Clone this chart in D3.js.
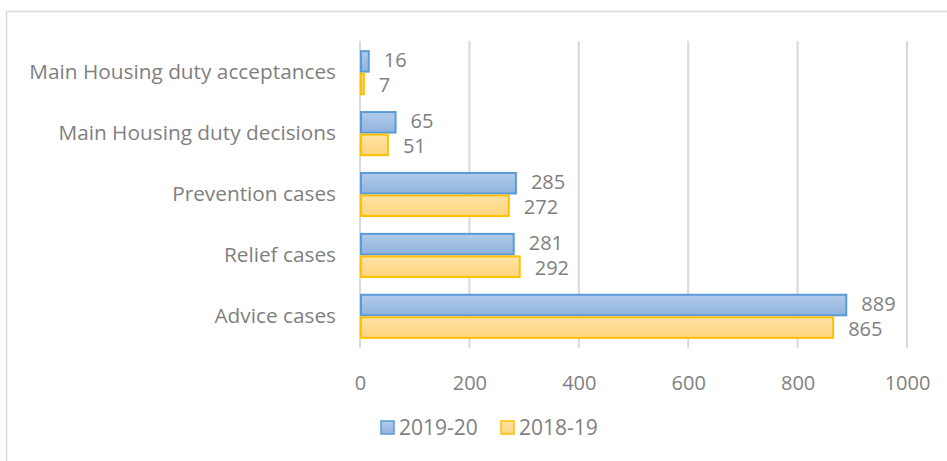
<!DOCTYPE html>
<html>
<head>
<meta charset="utf-8">
<script src="https://cdn.jsdelivr.net/npm/d3@7"></script>
<style>
  body { margin: 0; background: #fff; }
  svg { display: block; }
  text { font-family: "Open Sans", sans-serif; fill: #7f7f7f; }
</style>
</head>
<body>
<div id="chart"></div>
<script>
// categories, top to bottom
var categories = ['Main Housing duty acceptances', 'Main Housing duty decisions',
                  'Prevention cases', 'Relief cases', 'Advice cases'];
var seriesNames = ['2019-20', '2018-19'];
var values2019 = [16, 65, 285, 281, 889];
var values2018 = [7, 51, 272, 292, 865];
var xTicks = [0, 200, 400, 600, 800, 1000];

var W = 947, H = 461;
var margin = {left: 360, right: 40, top: 41, bottom: 113};

var svg = d3.select('#chart').append('svg')
  .attr('width', W).attr('height', H);

var defs = svg.append('defs');
function grad(id, c1, c2) {
  var g = defs.append('linearGradient').attr('id', id)
    .attr('x1', 0).attr('y1', 0).attr('x2', 0).attr('y2', 1);
  g.append('stop').attr('offset', '0%').attr('stop-color', c1);
  g.append('stop').attr('offset', '100%').attr('stop-color', c2);
}
grad('gBlue', '#b3cbe9', '#8fb3df');
grad('gGold', '#ffe3a6', '#ffd47e');

var fills = ['url(#gBlue)', 'url(#gGold)'];
var strokes = ['#5b9bd5', '#ffc000'];

// chart frame
svg.append('rect')
  .attr('x', 6.5).attr('y', 11.5)
  .attr('width', 1000).attr('height', 500)
  .attr('fill', 'none').attr('stroke', '#d9d9d9').attr('stroke-width', 1.5);

var x = d3.scaleLinear().domain([0, 1000]).range([margin.left, W - margin.right]);
var y = d3.scaleBand().domain(categories)
  .range([margin.top, H - margin.bottom]).paddingInner(0.26).paddingOuter(0.15);
var ySub = d3.scaleBand().domain(seriesNames).range([0, y.bandwidth()]);

// gridlines
svg.append('g').selectAll('line').data(xTicks).enter().append('line')
  .attr('x1', function(d) { return x(d); })
  .attr('x2', function(d) { return x(d); })
  .attr('y1', margin.top).attr('y2', H - margin.bottom)
  .attr('stroke', '#d9d9d9').attr('stroke-width', 2);

// x axis tick labels
var xAxis = d3.axisBottom(x).tickValues(xTicks).tickFormat(d3.format('d'))
  .tickSize(0).tickPadding(0);
var gx = svg.append('g')
  .attr('transform', 'translate(0,' + (H - margin.bottom + 35) + ')')
  .call(xAxis);
gx.select('.domain').remove();
gx.selectAll('text').style('font-size', '20px').attr('dy', '0.35em')
  .attr('fill', '#7f7f7f');

// y axis category labels
var yAxis = d3.axisLeft(y).tickSize(0).tickPadding(24);
var gy = svg.append('g').attr('transform', 'translate(' + margin.left + ',0)').call(yAxis);
gy.select('.domain').remove();
gy.selectAll('text').style('font-size', '20.8px').attr('fill', '#7f7f7f');

// bars
var rows = categories.map(function(c, i) {
  return {cat: c, vals: [values2019[i], values2018[i]]};
});
var grp = svg.append('g').selectAll('g').data(rows).enter().append('g')
  .attr('transform', function(d) { return 'translate(0,' + y(d.cat) + ')'; });

grp.selectAll('rect').data(function(d) {
    return d.vals.map(function(v, k) { return {k: k, v: v}; });
  }).enter().append('rect')
  .attr('x', x(0) + 1)
  .attr('y', function(d) { return ySub(seriesNames[d.k]) + 1; })
  .attr('width', function(d) { return Math.max(0, x(d.v) - x(0) - 1); })
  .attr('height', ySub.bandwidth() - 2)
  .attr('fill', function(d) { return fills[d.k]; })
  .attr('stroke', function(d) { return strokes[d.k]; })
  .attr('stroke-width', 2);

grp.selectAll('text.lbl').data(function(d) {
    return d.vals.map(function(v, k) { return {k: k, v: v}; });
  }).enter().append('text').attr('class', 'lbl')
  .attr('x', function(d) { return x(d.v) + 15; })
  .attr('y', function(d) { return ySub(seriesNames[d.k]) + ySub.bandwidth() / 2 + (d.k ? 1 : -1); })
  .attr('dy', '0.35em')
  .style('font-size', '20px')
  .text(function(d) { return d.v; });

// legend
var legend = svg.append('g').attr('transform', 'translate(380,428)');
var li = legend.selectAll('g').data(seriesNames).enter().append('g')
  .attr('transform', function(d, i) { return 'translate(' + (i * 120) + ',0)'; });
li.append('rect').attr('x', 1).attr('y', -7).attr('width', 13).attr('height', 13)
  .attr('fill', function(d, i) { return fills[i]; })
  .attr('stroke', function(d, i) { return strokes[i]; }).attr('stroke-width', 1.5);
li.append('text').attr('x', 19).attr('dy', '0.35em')
  .style('font-size', '21px').text(function(d) { return d; });
</script>
</body>
</html>
